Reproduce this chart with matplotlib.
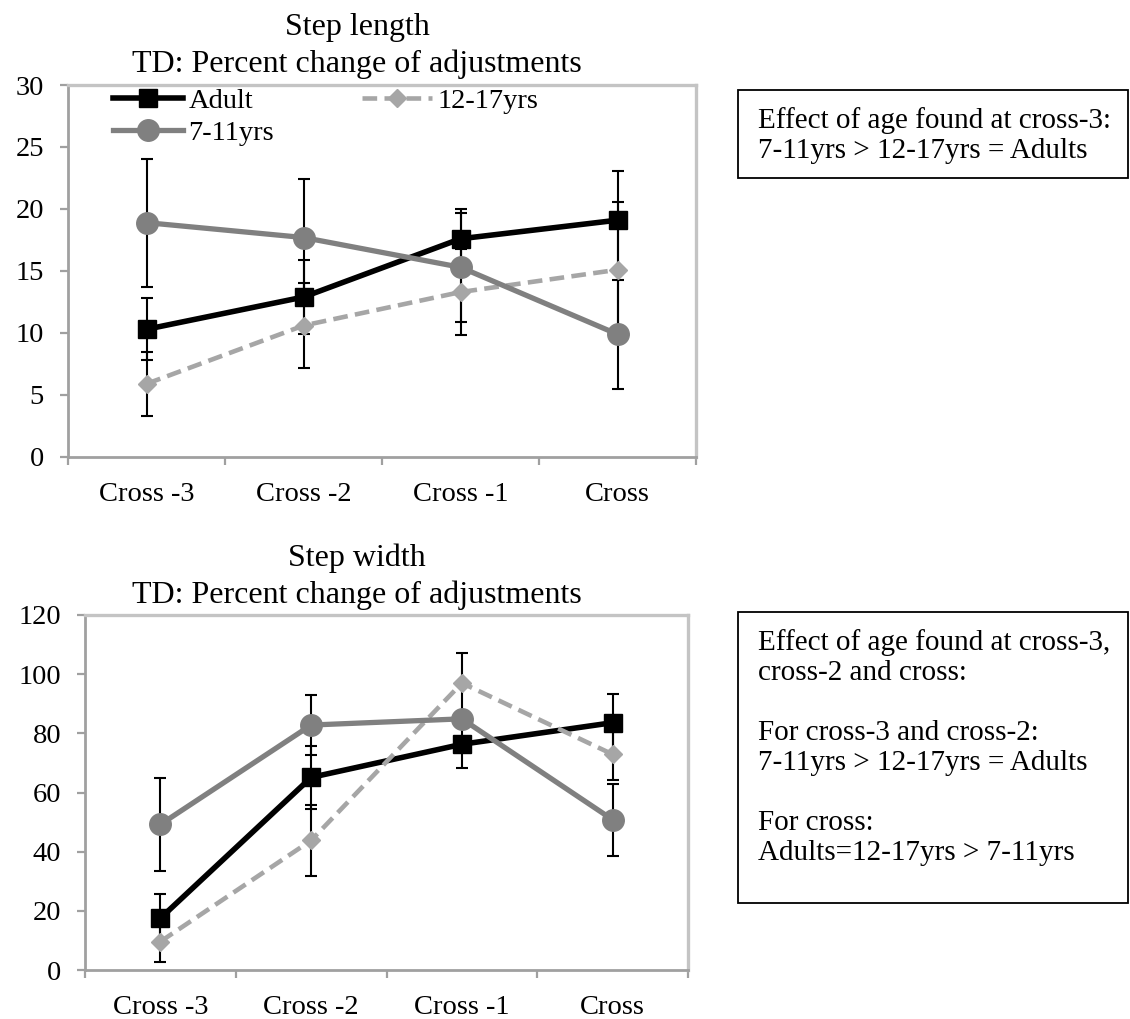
import matplotlib
matplotlib.use("Agg")
import matplotlib.pyplot as plt
from matplotlib.patches import Rectangle
import numpy as np

categories = ['Cross -3', 'Cross -2', 'Cross -1', 'Cross']
series_names = ['Adult', '12-17yrs', '7-11yrs']

length_adult = [10.3, 12.9, 17.6, 19.1]
length_adult_err = [2.5, 3.0, 2.4, 4.0]
length_teen = [5.9, 10.6, 13.3, 15.1]
length_teen_err = [2.6, 3.4, 3.5, 5.5]
length_child = [18.9, 17.7, 15.3, 9.9]
length_child_err = [5.15, 4.7, 4.4, 4.4]

width_adult = [17.5, 65.1, 76.3, 83.6]
width_adult_err = [8.1, 10.6, 8.1, 9.8]
width_teen = [9.6, 43.8, 97.0, 72.9]
width_teen_err = [6.8, 12.0, 10.1, 8.6]
width_child = [49.2, 82.8, 84.9, 50.8]
width_child_err = [15.8, 10.0, 2.0, 12.1]

length_ticks = [0, 5, 10, 15, 20, 25, 30]
width_ticks = [0, 20, 40, 60, 80, 100, 120]

title_top = ["Step length", "TD: Percent change of adjustments"]
title_bottom = ["Step width", "TD: Percent change of adjustments"]
note1 = "Effect of age found at cross-3:\n7-11yrs > 12-17yrs = Adults"
note2 = ("Effect of age found at cross-3,\ncross-2 and cross:\n\n"
         "For cross-3 and cross-2:\n7-11yrs > 12-17yrs = Adults\n\n"
         "For cross:\nAdults=12-17yrs > 7-11yrs")

plt.rcParams['font.family'] = ['Liberation Serif', 'DejaVu Serif']
FS = 20.5
FS_TITLE = 23
FS_NOTE = 21
W, H = 1130, 1019
fig = plt.figure(figsize=(W / 100, H / 100), dpi=100)

AXIS_C = '#A0A0A0'
BORDER_C = '#C4C4C4'
styles = {
    'Adult': dict(color='black', lw=4.0, marker='s', ms=12.5, ls='-'),
    '12-17yrs': dict(color='#A6A6A6', lw=3.3, marker='D', ms=9, ls=(0, (3.2, 1.6))),
    '7-11yrs': dict(color='#808080', lw=3.8, marker='o', ms=15.5, ls='-'),
}


def px(v):
    return v * 72 / 100


def make_axes(rect_px, data, errs, ticks, title_lines, title_y, legend):
    l, t, r, b = rect_px
    ax = fig.add_axes([l / W, 1 - b / H, (r - l) / W, (b - t) / H])
    x = np.arange(len(categories))
    handles = []
    for name, y, e, z in zip(series_names, data, errs, [3, 4, 5]):
        st = styles[name]
        ax.errorbar(x, y, yerr=e, fmt='none', ecolor='black', elinewidth=1.5,
                    capsize=px(6), capthick=1.5, zorder=2)
        h, = ax.plot(x, y, color=st['color'], lw=st['lw'], ls=st['ls'],
                     marker=st['marker'], ms=st['ms'], mfc=st['color'],
                     mec=st['color'], zorder=z, label=name)
        handles.append(h)
    ax.set_xlim(-0.5, len(categories) - 0.5)
    ax.set_ylim(ticks[0], ticks[-1])
    ax.set_yticks(ticks)
    ax.set_yticklabels([str(v) for v in ticks], fontsize=FS)
    ax.set_xticks(x)
    ax.set_xticklabels(categories, fontsize=FS)
    ax.set_xticks(np.arange(-0.5, len(categories)), minor=True)
    ax.tick_params(axis='x', which='major', length=0, pad=px(25))
    ax.tick_params(axis='x', which='minor', length=px(8), width=1.6, color=AXIS_C)
    ax.tick_params(axis='y', length=px(8), width=1.6, color=AXIS_C, pad=px(16))
    for k in ['left', 'bottom']:
        ax.spines[k].set_color(AXIS_C)
        ax.spines[k].set_linewidth(2.0)
    for k in ['top', 'right']:
        ax.spines[k].set_color(BORDER_C)
        ax.spines[k].set_linewidth(2.4)
    for line, yy in zip(title_lines, title_y):
        fig.text(357 / W, 1 - yy / H, line, fontsize=FS_TITLE, ha='center', va='center')
    if legend:
        order = [handles[0], handles[2], handles[1]]
        ax.legend(order, [h.get_label() for h in order], ncol=2, loc='upper left',
                  bbox_to_anchor=((113 - l) / (r - l), 1 - 3 / (b - t)), frameon=False,
                  fontsize=FS, handlelength=2.45, handletextpad=0.2, columnspacing=3.1,
                  labelspacing=0.22, borderpad=0.0, borderaxespad=0)
    return ax


make_axes((68, 85, 696, 457),
          [length_adult, length_teen, length_child],
          [length_adult_err, length_teen_err, length_child_err],
          length_ticks, title_top, [27, 64], True)
make_axes((85, 615, 688, 970),
          [width_adult, width_teen, width_child],
          [width_adult_err, width_teen_err, width_child_err],
          width_ticks, title_bottom, [558, 595], False)


def note_box(l, t, r, b, text):
    fig.patches.append(Rectangle((l / W, 1 - b / H), (r - l) / W, (b - t) / H,
                                 transform=fig.transFigure, fill=False,
                                 edgecolor='black', lw=1.3))
    fig.text((l + 20) / W, 1 - (t + 17) / H, text, fontsize=FS_NOTE, va='top',
             ha='left', linespacing=1.2)


note_box(738, 90, 1128, 178, note1)
note_box(738, 612, 1128, 903, note2)

fig.savefig('out.png', dpi=100)
